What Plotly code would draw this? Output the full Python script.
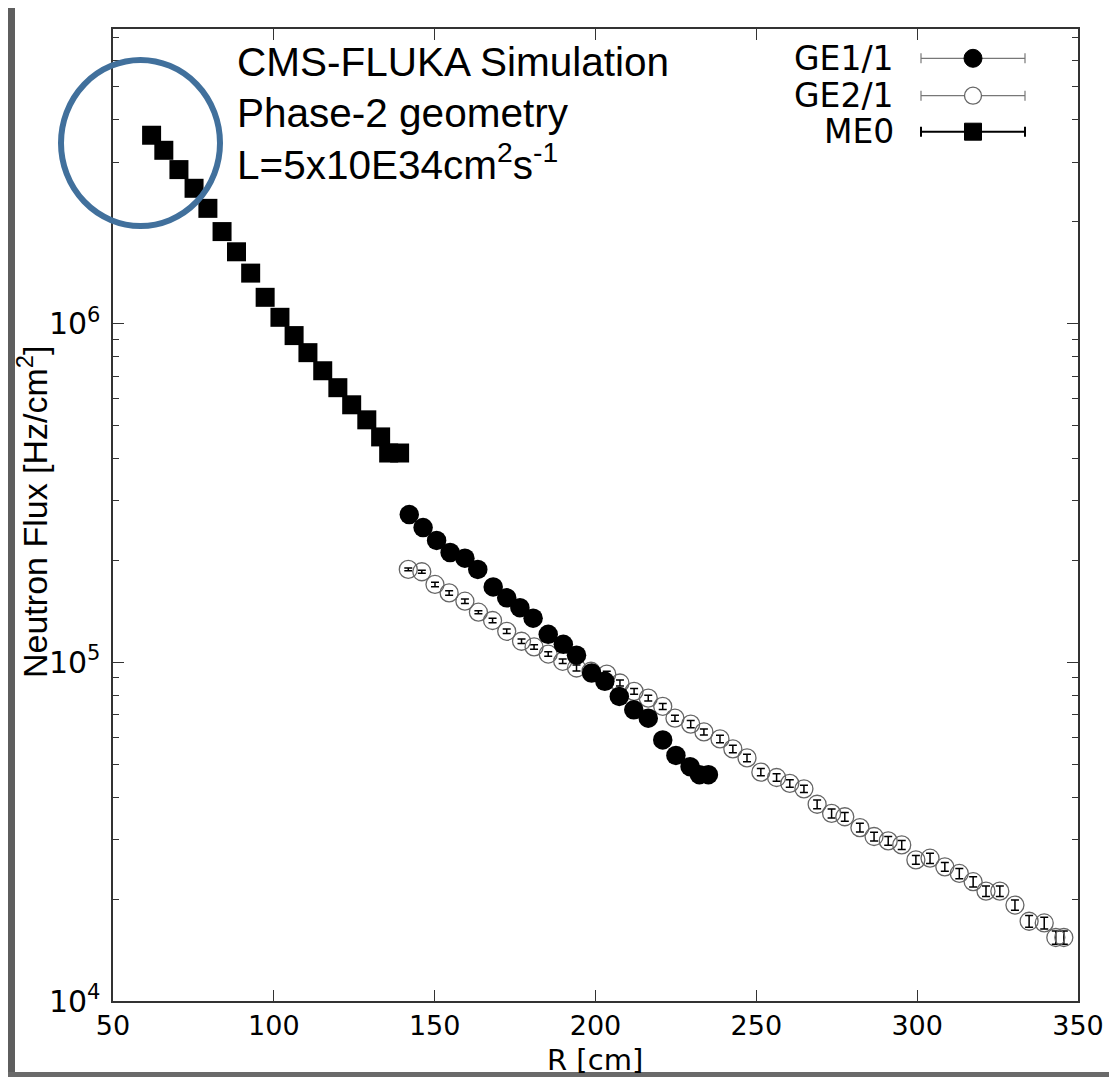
import plotly.graph_objects as go

# ---------------- data ----------------
me0_r = [62.0, 65.8, 70.5, 75.2, 79.5, 83.9, 88.4, 92.8, 97.3, 101.9, 106.3,
         110.6, 115.2, 119.9, 124.2, 128.9, 133.2, 135.7, 139.1]
me0_flux = [3.60e6, 3.25e6, 2.85e6, 2.51e6, 2.19e6, 1.87e6, 1.63e6, 1.41e6,
            1.196e6, 1.044e6, 9.22e5, 8.21e5, 7.26e5, 6.47e5, 5.76e5, 5.20e5,
            4.63e5, 4.15e5, 4.15e5]

ge11_r = [142.1, 146.4, 150.6, 154.8, 159.4, 163.4, 168.2, 172.4, 176.5, 180.6,
          185.3, 190.0, 194.1, 198.8, 202.9, 207.4, 211.9, 216.4, 220.9, 225.0,
          229.4, 232.3, 235.1]
ge11_flux = [2.73e5, 2.50e5, 2.29e5, 2.11e5, 2.03e5, 1.88e5, 1.67e5, 1.55e5,
             1.45e5, 1.35e5, 1.21e5, 1.13e5, 1.05e5, 9.30e4, 8.79e4, 7.93e4,
             7.24e4, 6.84e4, 5.90e4, 5.31e4, 4.92e4, 4.66e4, 4.66e4]

ge21_r = [141.8, 146.0, 150.1, 154.5, 159.4, 163.6, 168.0, 172.4, 177.0, 180.9,
          185.3, 189.8, 194.1, 198.6, 203.5, 207.6, 212.0, 216.4, 220.9, 224.7,
          229.6, 233.7, 238.7, 242.7, 247.1, 251.4, 256.3, 260.4, 264.8, 268.9,
          273.4, 277.5, 282.2, 286.6, 291.0, 295.2, 299.6, 304.0, 308.6, 313.1,
          317.4, 321.4, 325.7, 330.4, 334.8, 339.5, 343.1, 345.6]
ge21_flux = [1.881e5, 1.851e5, 1.698e5, 1.603e5, 1.515e5, 1.406e5, 1.329e5,
             1.235e5, 1.154e5, 1.110e5, 1.058e5, 1.007e5, 9.62e4, 9.41e4,
             9.23e4, 8.69e4, 8.21e4, 7.84e4, 7.41e4, 6.84e4, 6.57e4, 6.23e4,
             5.94e4, 5.55e4, 5.22e4, 4.74e4, 4.57e4, 4.39e4, 4.23e4, 3.81e4,
             3.58e4, 3.50e4, 3.25e4, 3.06e4, 2.97e4, 2.89e4, 2.61e4, 2.64e4,
             2.49e4, 2.38e4, 2.25e4, 2.11e4, 2.11e4, 1.92e4, 1.72e4, 1.70e4,
             1.54e4, 1.54e4]
# statistical uncertainty (percent)
ge21_err_pct = [1.0, 1.0, 1.5, 1.5, 1.5, 1.0, 1.5, 1.5, 1.5, 1.5, 1.5, 1.5,
                2.0, 2.0, 2.0, 2.0, 2.0, 2.0, 2.0, 2.0, 2.5, 2.0, 2.5, 2.5,
                2.5, 2.5, 2.5, 2.5, 2.5, 3.0, 3.0, 3.0, 3.0, 3.0, 3.0, 3.0,
                3.0, 3.5, 3.0, 3.5, 3.5, 3.5, 3.5, 3.5, 4.0, 4.0, 4.5, 4.5]

series_names = ["GE1/1", "GE2/1", "ME0"]
x_ticks = [50, 100, 150, 200, 250, 300, 350]

# ---------------- geometry helpers (page pixel -> paper) ----------------
W, H = 1117, 1083
OFF = 8                      # page body margin offset
L, R, T, B = 113, 1078, 29, 1001   # plot area in page pixels


def px(xp):
    return (xp - L) / (R - L)


def py(yp):
    return (B - yp) / (B - T)


fig = go.Figure()

fig.add_trace(go.Scatter(
    x=me0_r, y=me0_flux, mode="markers", name="ME0",
    marker=dict(symbol="square", size=19, color="black"),
))
fig.add_trace(go.Scatter(
    x=ge21_r, y=ge21_flux, mode="markers", name="GE2/1",
    marker=dict(symbol="circle-open", size=18, color="#666",
                line=dict(width=1.3, color="#666")),
    error_y=dict(type="data",
                 array=[v * p / 100 for v, p in zip(ge21_flux, ge21_err_pct)],
                 color="black", thickness=1.5, width=4),
))
fig.add_trace(go.Scatter(
    x=ge11_r, y=ge11_flux, mode="markers", name="GE1/1",
    marker=dict(symbol="circle", size=19.5, color="black"),
))

axis_common = dict(showline=True, linecolor="#333", linewidth=1.5, mirror="ticks",
                   ticks="inside", tickcolor="#333", tickwidth=1.2,
                   showgrid=False, zeroline=False)

fig.update_xaxes(range=[50, 350], tickvals=x_ticks, ticklen=11,
                 tickfont=dict(family="DejaVu Sans", size=27, color="black"),
                 **axis_common)
fig.update_yaxes(type="log", range=[4, 6.87], dtick=1, exponentformat="power",
                 ticklen=11, minor=dict(ticks="inside", ticklen=6, tickcolor="#333"),
                 tickfont=dict(family="DejaVu Sans", size=24, color="black"),
                 ticklabelstandoff=6,
                 **axis_common)

annotations = []
# axis titles
annotations.append(dict(text="R [cm]", x=px(595), y=py(1060), xref="paper", yref="paper",
                        showarrow=False, xanchor="center", yanchor="middle",
                        font=dict(family="DejaVu Sans", size=29, color="black")))
annotations.append(dict(text="Neutron Flux [Hz/cm<sup>2</sup>]", x=px(32), y=py(512),
                        xref="paper", yref="paper", textangle=-90,
                        showarrow=False, xanchor="center", yanchor="middle",
                        font=dict(family="Liberation Sans", size=34, color="black")))
# info text
info = ["CMS-FLUKA Simulation", "Phase-2 geometry", "L=5x10E34cm<sup>2</sup>s<sup>-1</sup>"]
info_y = [61.5, 113, 162]
for t, yy in zip(info, info_y):
    annotations.append(dict(text=t, x=px(235), y=py(yy), xref="paper", yref="paper",
                            showarrow=False, xanchor="left", yanchor="middle",
                            font=dict(family="Liberation Sans", size=40.5, color="black")))

shapes = []
# manual legend (gnuplot style: label, line with error caps, marker)
leg_y = [58.3, 95.7, 131.7]
leg_line_col = ["#777", "#777", "black"]
leg_line_w = [1.2, 1.2, 2]
for name, yy, lc, lw in zip(series_names, leg_y, leg_line_col, leg_line_w):
    annotations.append(dict(text=name, x=px(896), y=py(yy), xref="paper", yref="paper",
                            showarrow=False, xanchor="right", yanchor="middle",
                            font=dict(family="DejaVu Sans", size=33, color="black")))
    shapes.append(dict(type="line", xref="paper", yref="paper",
                       x0=px(921), x1=px(1025), y0=py(yy), y1=py(yy),
                       line=dict(color=lc, width=lw)))
    for xc in (921, 1025):
        shapes.append(dict(type="line", xref="paper", yref="paper",
                           x0=px(xc), x1=px(xc), y0=py(yy - 5), y1=py(yy + 5),
                           line=dict(color=lc, width=lw)))
# legend markers
shapes.append(dict(type="circle", xref="paper", yref="paper", xsizemode="pixel",
                   ysizemode="pixel", xanchor=px(973), yanchor=py(58.3),
                   x0=-9, x1=9, y0=-9, y1=9, fillcolor="black", line=dict(color="black", width=1)))
shapes.append(dict(type="circle", xref="paper", yref="paper", xsizemode="pixel",
                   ysizemode="pixel", xanchor=px(973), yanchor=py(95.7),
                   x0=-8.5, x1=8.5, y0=-8.5, y1=8.5, fillcolor="white",
                   line=dict(color="#666", width=1.3)))
shapes.append(dict(type="rect", xref="paper", yref="paper", xsizemode="pixel",
                   ysizemode="pixel", xanchor=px(973), yanchor=py(131.7),
                   x0=-8.5, x1=8.5, y0=-8.5, y1=8.5, fillcolor="black",
                   line=dict(color="black", width=1)))

# blue highlight circle
shapes.append(dict(type="circle", xref="paper", yref="paper",
                   x0=px(61), x1=px(220), y0=py(226), y1=py(60),
                   line=dict(color="#41709C", width=6), layer="above"))

# screenshot frame borders
shapes.append(dict(type="rect", xref="paper", yref="paper", x0=px(7), x1=px(15),
                   y0=py(1077), y1=py(0), fillcolor="#5e5e5e", line=dict(width=0)))
shapes.append(dict(type="line", xref="paper", yref="paper", x0=px(15), x1=px(1114),
                   y0=py(4), y1=py(4), line=dict(color="#7a7a7a", width=2)))
shapes.append(dict(type="rect", xref="paper", yref="paper", x0=px(1112), x1=px(1116),
                   y0=py(1077), y1=py(3), fillcolor="#8a8a8a", line=dict(width=0)))
shapes.append(dict(type="rect", xref="paper", yref="paper", x0=px(7), x1=px(1116),
                   y0=py(1077), y1=py(1072), fillcolor="#6a6a6a", line=dict(width=0)))

fig.update_layout(
    width=W, height=H,
    margin=dict(l=L - OFF, r=W - (R - OFF), t=T - OFF, b=H - (B - OFF)),
    paper_bgcolor="white", plot_bgcolor="white",
    showlegend=False,
    annotations=annotations, shapes=shapes,
)

fig.write_html("out.html")
